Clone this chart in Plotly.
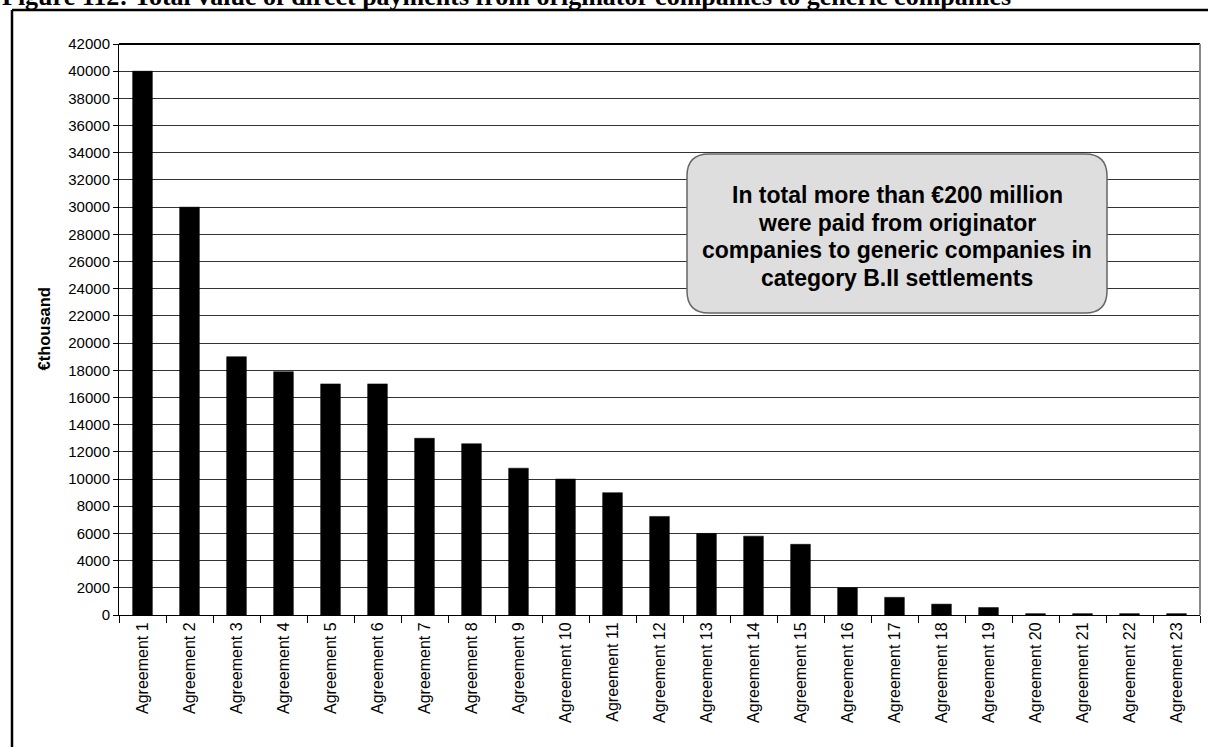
import plotly.graph_objects as go

# 데이터
agreements = ['Agreement {}'.format(i) for i in range(1, 24)]
payments = [40000, 30000, 19000, 17900, 17000, 17000, 13000, 12600, 10800, 10000, 9000, 7250,
            6000, 5800, 5200, 2000, 1300, 800, 550, 100, 100, 100, 100]
y_ticks = list(range(0, 42001, 2000))
title_text = 'Figure 112: Total value of direct payments from originator companies to generic companies'
box_lines = ['In total more than €200 million', 'were paid from originator',
             'companies to generic companies in', 'category B.II settlements']

W, H = 1208, 747
L, R, T, B = 119, 8, 44, 132
pw, ph = W - L - R, H - T - B


# 픽셀 -> paper 좌표
def px(x):
    return (x - L) / pw


def py(y):
    return (H - B - y) / ph


fig = go.Figure(go.Bar(
    x=agreements, y=payments,
    marker=dict(color='black', line=dict(color='black', width=0.5)),
    width=0.42,
))

fig.update_layout(
    width=W, height=H, margin=dict(l=L, r=R, t=T, b=B),
    paper_bgcolor='white', plot_bgcolor='white',
    showlegend=False,
    font=dict(family='Liberation Sans, Arial', color='black'),
)
fig.update_yaxes(
    range=[0, 42000], tickvals=y_ticks, ticktext=[str(v) for v in y_ticks],
    showgrid=True, gridcolor='#333', gridwidth=1,
    ticks='outside', ticklen=5, tickcolor='black',
    showline=True, linecolor='black', linewidth=1,
    tickfont=dict(size=15), zeroline=False,
)
fig.update_xaxes(
    type='category', tickangle=-90, tickson='boundaries',
    ticks='outside', ticklen=7, tickcolor='black',
    showline=True, linecolor='black', linewidth=1,
    tickfont=dict(size=16), showgrid=False,
)

# 외곽선 + 플롯 테두리
shapes = [
    dict(type='line', xref='paper', yref='paper', x0=px(12), x1=px(1220), y0=py(10), y1=py(10),
         line=dict(color='black', width=2.5)),
    dict(type='line', xref='paper', yref='paper', x0=px(12), x1=px(12), y0=py(10), y1=py(760),
         line=dict(color='black', width=2.5)),
    dict(type='line', xref='paper', yref='paper', x0=0, x1=1, y0=1, y1=1,
         line=dict(color='black', width=2)),
    dict(type='line', xref='paper', yref='paper', x0=1, x1=1, y0=0, y1=1,
         line=dict(color='#888', width=2)),
]

# 둥근 박스
bx0, bx1, by0, by1 = px(687), px(1107), py(313), py(154)
rx, ry = 22 / pw, 22 / ph
path = ('M {a},{b} L {c},{b} Q {x1},{b} {x1},{d} L {x1},{e} Q {x1},{y1} {c},{y1} '
        'L {a},{y1} Q {x0},{y1} {x0},{e} L {x0},{d} Q {x0},{b} {a},{b} Z').format(
    a=bx0 + rx, c=bx1 - rx, b=by0, d=by0 + ry, e=by1 - ry, x0=bx0, x1=bx1, y1=by1)
shapes.append(dict(type='path', xref='paper', yref='paper', path=path,
                   fillcolor='#dedede', line=dict(color='#666', width=1.5), layer='above'))
fig.update_layout(shapes=shapes)

annotations = []
for i, line in enumerate(box_lines):
    annotations.append(dict(
        text='<b>{}</b>'.format(line), xref='paper', yref='paper',
        x=px(897), y=py(195 + i * 27.7), xanchor='center', yanchor='middle',
        showarrow=False, font=dict(size=23, color='black'),
    ))
annotations.append(dict(
    text='<b>€thousand</b>', xref='paper', yref='paper', x=px(43), y=py(329.5),
    textangle=-90, xanchor='center', yanchor='middle', showarrow=False,
    font=dict(size=16.5, color='black'),
))
annotations.append(dict(
    text='<b>{}</b>'.format(title_text), xref='paper', yref='paper', x=px(0), y=py(-3.5),
    xanchor='left', yanchor='middle', showarrow=False,
    font=dict(family='Liberation Serif, Times New Roman', size=26, color='black'),
))
fig.update_layout(annotations=annotations)

# body 기본 여백 제거
fig.write_html('out.html', config={'displayModeBar': False},
               post_script="document.body.style.margin='0';")
